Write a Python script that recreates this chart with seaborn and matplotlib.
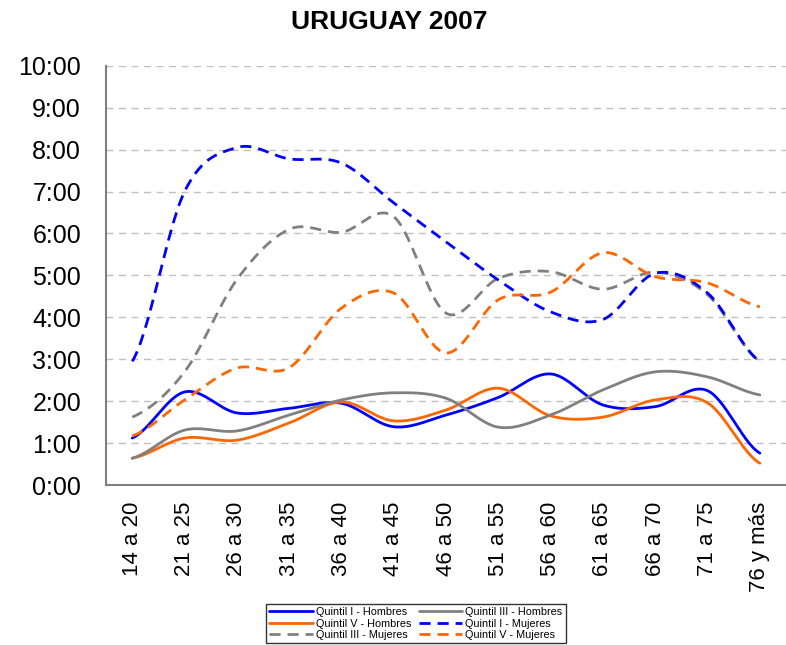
import numpy as np
import pandas as pd
import matplotlib
matplotlib.use("Agg")
import matplotlib.pyplot as plt
import seaborn as sns

edades = ["14 a 20", "21 a 25", "26 a 30", "31 a 35", "36 a 40", "41 a 45", "46 a 50",
          "51 a 55", "56 a 60", "61 a 65", "66 a 70", "71 a 75", "76 y más"]

# horas (decimal) por tramo de edad
q1_hombres = [1.12, 2.22, 1.72, 1.83, 1.95, 1.39, 1.67, 2.09, 2.65, 1.91, 1.87, 2.25, 0.76]
q3_hombres = [0.64, 1.31, 1.29, 1.67, 2.03, 2.20, 2.07, 1.38, 1.67, 2.27, 2.70, 2.58, 2.15]
q5_hombres = [0.64, 1.12, 1.07, 1.48, 1.98, 1.53, 1.79, 2.31, 1.65, 1.62, 2.03, 1.96, 0.52]
q1_mujeres = [2.95, 7.00, 8.05, 7.78, 7.68, 6.73, 5.80, 4.89, 4.13, 3.95, 5.05, 4.58, 2.95]
q3_mujeres = [1.62, 2.70, 4.90, 6.10, 6.03, 6.40, 4.10, 4.93, 5.09, 4.67, 5.08, 4.54, 2.95]
q5_mujeres = [1.17, 2.03, 2.79, 2.80, 4.22, 4.58, 3.15, 4.42, 4.60, 5.54, 4.97, 4.82, 4.25]

series = {
    "Quintil I - Hombres": q1_hombres,
    "Quintil V - Hombres": q5_hombres,
    "Quintil III - Mujeres": q3_mujeres,
    "Quintil III - Hombres": q3_hombres,
    "Quintil I - Mujeres": q1_mujeres,
    "Quintil V - Mujeres": q5_mujeres,
}
colores = {
    "Quintil I - Hombres": "#0000FF", "Quintil III - Hombres": "#808080",
    "Quintil V - Hombres": "#FF6600", "Quintil I - Mujeres": "#0000FF",
    "Quintil III - Mujeres": "#808080", "Quintil V - Mujeres": "#FF6600",
}


def suavizar(y, n=30):
    # curva suave tipo Excel (Catmull-Rom)
    y = np.asarray(y, float)
    p = np.concatenate([[y[0]], y, [y[-1]]])
    xs, ys = [], []
    for i in range(len(y) - 1):
        p0, p1, p2, p3 = p[i], p[i + 1], p[i + 2], p[i + 3]
        t = np.linspace(0, 1, n, endpoint=False)
        yy = 0.5 * ((2 * p1) + (-p0 + p2) * t + (2 * p0 - 5 * p1 + 4 * p2 - p3) * t ** 2
                    + (-p0 + 3 * p1 - 3 * p2 + p3) * t ** 3)
        xs.extend(i + t)
        ys.extend(yy)
    xs.append(len(y) - 1)
    ys.append(y[-1])
    return np.array(xs), np.array(ys)


filas = []
for nombre, vals in series.items():
    xs, ys = suavizar(vals)
    filas.append(pd.DataFrame({"x": xs, "horas": ys, "serie": nombre}))
df = pd.concat(filas)

sns.set_style("white")
plt.rcParams["font.family"] = ["Liberation Sans", "DejaVu Sans"]
plt.rcParams["text.color"] = "black"
plt.rcParams["xtick.color"] = "black"
plt.rcParams["ytick.color"] = "black"

fig = plt.figure(figsize=(7.86, 6.45), dpi=100)
ax = fig.add_axes([0.135, 0.248, 0.865, 0.65])

ax.yaxis.grid(True, color="#C0C0C0", linestyle=(0, (5, 4)), linewidth=1)
ax.set_axisbelow(True)

sns.lineplot(data=df, x="x", y="horas", hue="serie", style="serie",
             palette=colores, hue_order=list(series.keys()),
             dashes={k: ("" if "Hombres" in k else (4, 2.5)) for k in series},
             linewidth=2, sort=False, ax=ax)

ax.set_xlim(-0.5, 12.5)
ax.set_ylim(0, 10)
ax.set_yticks(range(11))
ax.set_yticklabels([f"{h}:00" for h in range(11)], fontsize=18)
ax.set_xticks(range(len(edades)))
ax.set_xticklabels(edades, rotation=90, fontsize=16)
ax.set_xticks(np.arange(-0.5, 12.5, 1), minor=True)
ax.tick_params(axis="x", which="major", length=0, pad=12)
ax.tick_params(axis="x", which="minor", length=8, direction="out", color="#555555")
ax.tick_params(axis="y", length=10, direction="inout", color="#555555", pad=13)
ax.set_xlabel("")
ax.set_ylabel("")
for s in ["top", "right"]:
    ax.spines[s].set_visible(False)
for s in ["left", "bottom"]:
    ax.spines[s].set_color("#808080")
    ax.spines[s].set_linewidth(1.5)

fig.suptitle("URUGUAY 2007", x=0.495, y=0.985, fontsize=19, fontweight="bold")

handles, labels = ax.get_legend_handles_labels()
ax.legend(handles, labels, ncol=2, fontsize=7.8, loc="upper center",
          bbox_to_anchor=(0.529, 0.072), bbox_transform=fig.transFigure,
          frameon=True, fancybox=False,
          edgecolor="black", handlelength=4.0, columnspacing=0.7,
          labelspacing=0.12, borderpad=0.3, handletextpad=0.3)

fig.savefig("out.png", dpi=100)
